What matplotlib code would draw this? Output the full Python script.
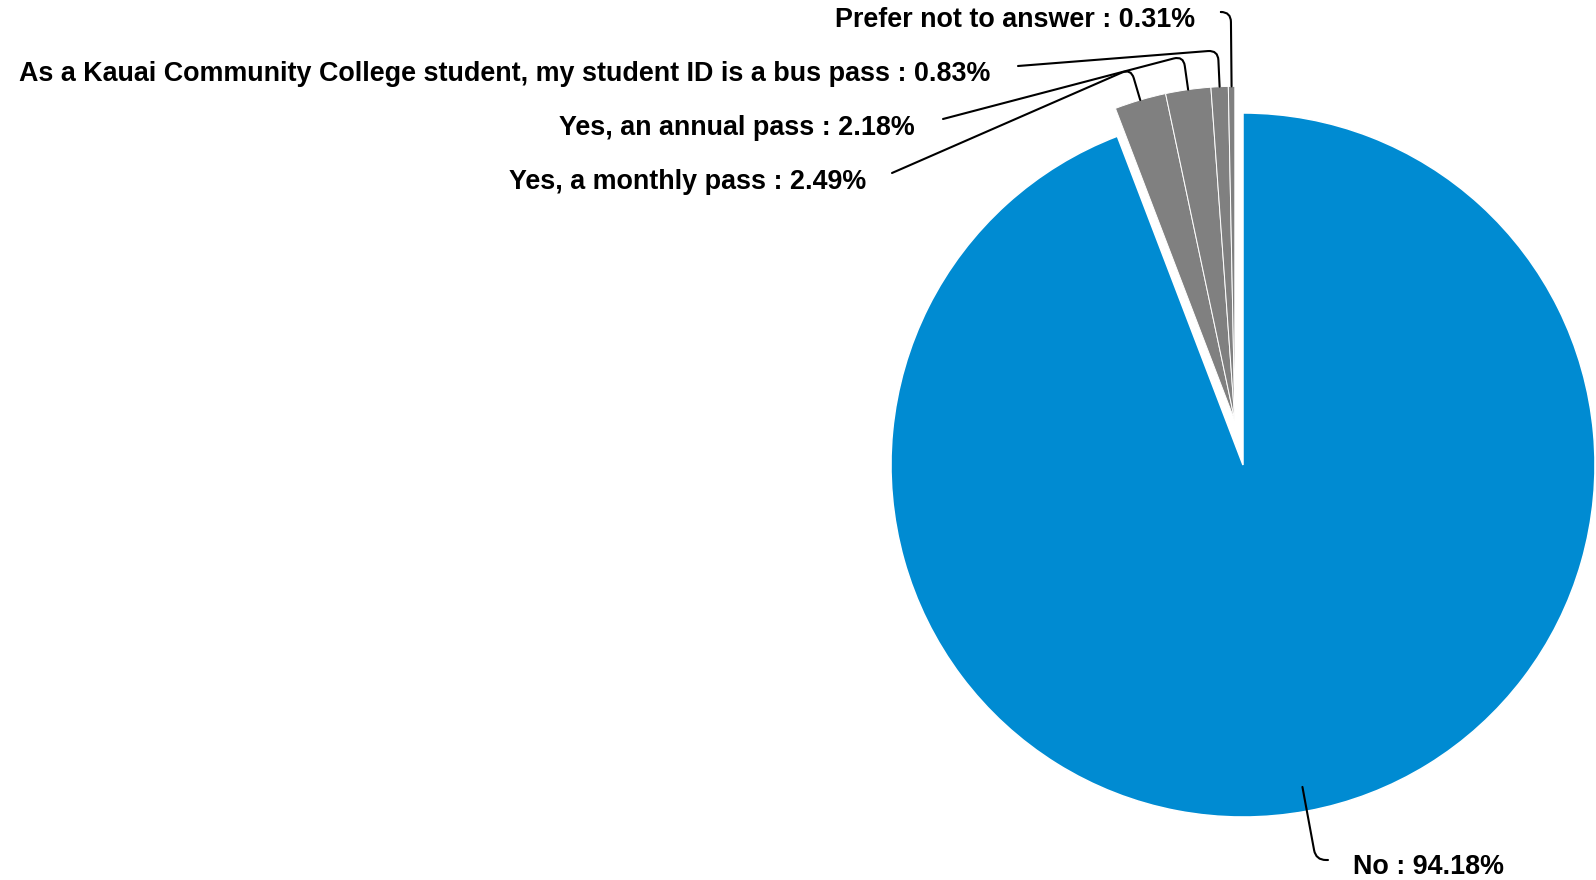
import matplotlib.pyplot as plt
from matplotlib.patches import FancyArrowPatch
import numpy as np

labels = ['No', 'Yes, a monthly pass', 'Yes, an annual pass',
          'As a Kauai Community College student, my student ID is a bus pass',
          'Prefer not to answer']
values = [94.18, 2.49, 2.18, 0.83, 0.31]
colors = ['#008bd2', '#808080', '#808080', '#808080', '#808080']

# label layout in image pixels (x, baseline y, ha), leader start (x, y), leader angle
text_pos = [(1353, 874, 'left'), (866, 189, 'right'), (915, 135, 'right'),
            (990, 81, 'right'), (1195, 27, 'right')]
line_start = [(1328, 860), (892, 173), (943, 119), (1018, 66), (1222, 12)]
line_angle = [0, 23.6, 14.7, 4.5, 0]

W, H = 1596, 880
plt.rcParams['font.family'] = ['Liberation Sans', 'DejaVu Sans']

fig = plt.figure(figsize=(W / 100, H / 100), dpi=100)
ax = fig.add_axes([0, 0, 1, 1])

cx, cy, r = 1243, H - 465, 352
wedges, _ = ax.pie(values, colors=colors, startangle=90, counterclock=False,
                   center=(cx, cy), radius=r,
                   wedgeprops=dict(edgecolor='white', linewidth=1.1,
                                   joinstyle='bevel'))
ax.set_xlim(0, W)
ax.set_ylim(0, H)
ax.axis('off')

# pull the small answers out together as one group
gray_frac = sum(values[1:]) / sum(values)
mid = np.deg2rad(90 + gray_frac * 360 / 2)
shift = 45
gx, gy = cx + shift * np.cos(mid), cy + shift * np.sin(mid)
for w in wedges[1:]:
    w.set_center((gx, gy))
    w.set_radius(r * 0.95)
    w.set_linewidth(0.7)

for i, w in enumerate(wedges):
    theta = (w.theta1 + w.theta2) / 2
    rr = w.r * (0.93 if i == 0 else 1.0)
    ex = w.center[0] + rr * np.cos(np.deg2rad(theta))
    ey = w.center[1] + rr * np.sin(np.deg2rad(theta))
    sx, sy = line_start[i]
    arrow = FancyArrowPatch((sx, H - sy), (ex, ey), arrowstyle='-',
                            connectionstyle=f'angle,angleA={line_angle[i]},angleB={theta},rad=10',
                            color='black', lw=1.5, shrinkA=0, shrinkB=0)
    ax.add_patch(arrow)
    tx, ty, ha = text_pos[i]
    ax.text(tx, H - ty, f'{labels[i]} : {values[i]:.2f}%', ha=ha, va='baseline',
            fontsize=19.4, fontweight='bold', color='black')

fig.savefig('out.png', dpi=100)
